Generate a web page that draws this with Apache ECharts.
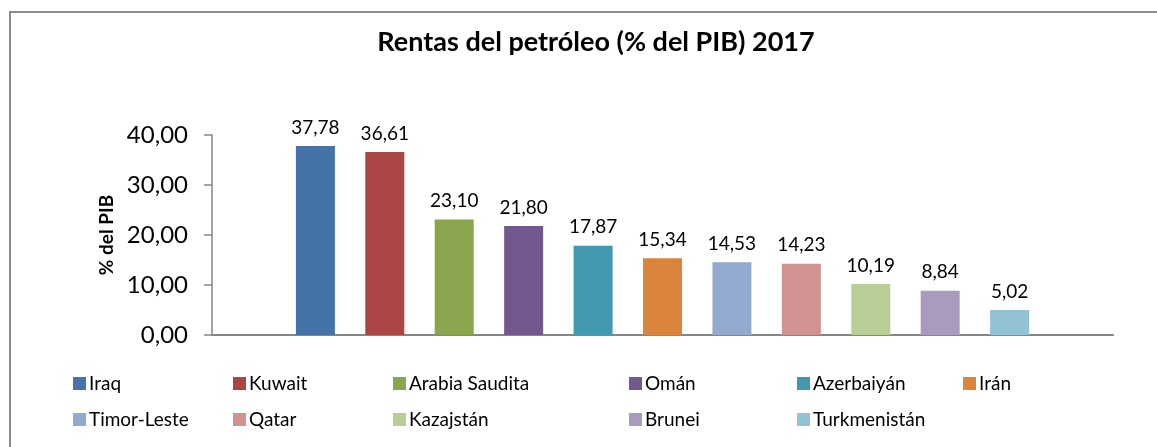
<!DOCTYPE html>
<html>
<head>
<meta charset="utf-8">
<script src="https://cdn.jsdelivr.net/npm/echarts@6/dist/echarts.min.js"></script>
<style>
html,body{margin:0;padding:0;background:#fff;}
#chart{width:1157px;height:447px;}
</style>
</head>
<body>
<div id="chart"></div>
<script>
const countries = ['Iraq','Kuwait','Arabia Saudita','Omán','Azerbaiyán','Irán','Timor-Leste','Qatar','Kazajstán','Brunei','Turkmenistán'];
const values = [37.78, 36.61, 23.10, 21.80, 17.87, 15.34, 14.53, 14.23, 10.19, 8.84, 5.02];
const colors = ['#4572A7','#AA4643','#89A54E','#71588F','#4198AF','#DB843D','#93A9CF','#D19392','#B9CD96','#A99BBD','#91C3D5'];
const yTicks = [0, 10, 20, 30, 40];
const titleText = 'Rentas del petróleo (% del PIB) 2017';
const yAxisName = '% del PIB';

const FONT = 'Lato';
const fmt = v => Number(v).toFixed(2).replace('.', ',');

const series = countries.map((c, i) => ({
  name: c,
  type: 'bar',
  data: [values[i]],
  barWidth: 39,
  barGap: '78%',
  itemStyle: { color: colors[i] },
  label: {
    show: true,
    position: 'top',
    distance: 9,
    fontFamily: FONT,
    fontSize: 19,
    color: '#000',
    formatter: p => fmt(p.value)
  }
}));

const legendCols = [73, 233, 393, 629, 797, 963];
const legends = legendCols.map((x, col) => {
  const items = [countries[col], countries[col + 6]].filter(Boolean);
  return {
    orient: 'vertical',
    left: x,
    top: 374,
    padding: 0,
    itemWidth: 13,
    itemHeight: 13,
    itemGap: 17,
    icon: 'rect',
    selectedMode: false,
    data: items,
    textStyle: { fontFamily: FONT, fontSize: 19, color: '#000', padding: [0, 0, 0, -2] }
  };
});

const chart = echarts.init(document.getElementById('chart'), null, { renderer: 'canvas' });
chart.setOption({
  animation: false,
  backgroundColor: '#fff',
  title: {
    text: titleText,
    left: 591,
    top: 24,
    textAlign: 'center',
    textStyle: { fontFamily: FONT, fontWeight: 'bold', fontSize: 27, color: '#000' }
  },
  graphic: [{
    type: 'rect',
    shape: { x: 10, y: 12, width: 1200, height: 500 },
    style: { fill: 'none', stroke: '#8c8c8c', lineWidth: 2 },
    silent: true,
    z: 0
  }],
  legend: legends,
  grid: { left: 212, right: 44, top: 135, bottom: 112, containLabel: false },
  xAxis: {
    type: 'category',
    data: [''],
    axisLine: { show: true, lineStyle: { color: '#868686', width: 2 } },
    axisTick: { show: false },
    axisLabel: { show: false }
  },
  yAxis: {
    type: 'value',
    min: yTicks[0],
    max: yTicks[yTicks.length - 1],
    interval: 10,
    name: yAxisName,
    nameLocation: 'middle',
    nameGap: 96,
    nameTextStyle: { fontFamily: FONT, fontWeight: 'bold', fontSize: 19, color: '#000' },
    axisLine: { show: true, lineStyle: { color: '#868686', width: 1.5 } },
    axisTick: { show: true, inside: false, length: 8, lineStyle: { color: '#868686', width: 1.5 } },
    splitLine: { show: false },
    axisLabel: { fontFamily: FONT, fontSize: 24, color: '#000', margin: 24, formatter: v => fmt(v) }
  },
  series: series
});
</script>
</body>
</html>
